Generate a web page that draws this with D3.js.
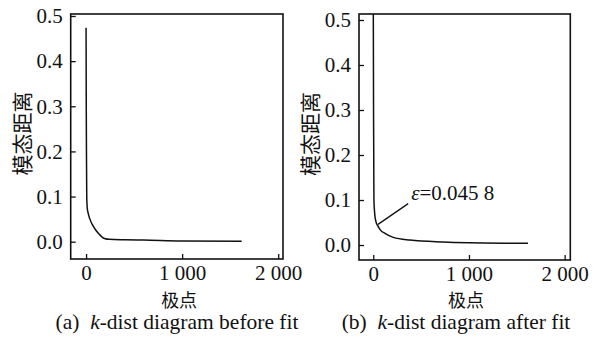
<!DOCTYPE html>
<html>
<head>
<meta charset="utf-8">
<script src="https://cdn.jsdelivr.net/npm/d3@7"></script>
<style>
  body { margin: 0; background: #fff; }
  svg { display: block; }
</style>
</head>
<body>
<div id="chart"></div>
<script>
// k-dist curves: [pole index, modal distance]
const beforeFit = [
  [0, 0.474], [2, 0.3], [4, 0.2], [7, 0.1], [12, 0.075], [20, 0.065],
  [40, 0.05], [70, 0.036], [100, 0.026], [140, 0.016], [170, 0.0098],
  [200, 0.0065], [240, 0.0052], [400, 0.0042], [600, 0.0036],
  [1000, 0.0016], [1620, 0.001]
];
const afterFit = [
  [0, 0.56], [3, 0.3], [5, 0.2], [7, 0.1], [15, 0.07], [28, 0.052],
  [52, 0.041], [80, 0.032], [122, 0.026], [209, 0.017], [383, 0.011],
  [731, 0.0067], [1000, 0.005], [1428, 0.004], [1617, 0.0038]
];
const yTicks = [0.0, 0.1, 0.2, 0.3, 0.4, 0.5];
const xTicks = [0, 1000, 2000];
const xTickLabels = ["0", "1 000", "2 000"];
const yLabel = "模态距离";
const xLabel = "极点";
const epsPoint = [50, 0.0458];
const epsLabelAt = [365, 0.092];
const epsText = "=0.045 8";

const W = 598, H = 338;
const serif = '"Liberation Serif", "Times New Roman", serif';
const cjk = '"Noto Sans CJK SC", "Noto Sans CJK JP", sans-serif';

const svg = d3.select("#chart").append("svg")
  .attr("width", W).attr("height", H);

const panels = [
  { id: "a", data: beforeFit, x0: 70.7, x1: 283, y0: 14, y1: 259,
    xDomain: [-160, 2050], yDomain: [-0.0383, 0.5044],
    yLabelX: 21, captionX: 177, cap: ["(a)  ", "k", "-dist diagram before fit"] },
  { id: "b", data: afterFit, x0: 359, x1: 570.3, y0: 14, y1: 260,
    xDomain: [-149, 2059], yDomain: [-0.0333, 0.5133],
    yLabelX: 309, captionX: 456, cap: ["(b)  ", "k", "-dist diagram after fit"], eps: true }
];

panels.forEach(p => {
  const x = d3.scaleLinear().domain(p.xDomain).range([p.x0, p.x1]);
  const y = d3.scaleLinear().domain(p.yDomain).range([p.y1, p.y0]);
  const g = svg.append("g");

  g.append("clipPath").attr("id", "clip-" + p.id)
    .append("rect")
    .attr("x", p.x0).attr("y", p.y0)
    .attr("width", p.x1 - p.x0).attr("height", p.y1 - p.y0);

  // curve
  const line = d3.line().x(d => x(d[0])).y(d => y(d[1])).curve(d3.curveMonotoneX);
  g.append("path")
    .datum(p.data)
    .attr("clip-path", "url(#clip-" + p.id + ")")
    .attr("fill", "none")
    .attr("stroke", "#111")
    .attr("stroke-width", 1.5)
    .attr("d", line);

  // y axis, inward ticks
  const yAxis = g.append("g")
    .attr("transform", `translate(${p.x0},0)`)
    .call(d3.axisLeft(y).tickValues(yTicks).tickFormat(d3.format(".1f"))
      .tickSizeInner(-5).tickSizeOuter(0).tickPadding(8));
  yAxis.attr("font-family", null).attr("font-size", null);
  yAxis.select(".domain").remove();
  yAxis.selectAll("line").attr("stroke", "#111").attr("stroke-width", 1.3);
  yAxis.selectAll("text")
    .style("font-family", serif).style("font-size", "21px").attr("fill", "#111");

  // x axis, inward ticks
  const xAxis = g.append("g")
    .attr("transform", `translate(0,${p.y1})`)
    .call(d3.axisBottom(x).tickValues(xTicks).tickFormat((d, i) => xTickLabels[i])
      .tickSizeInner(-5).tickSizeOuter(0).tickPadding(6));
  xAxis.attr("font-family", null).attr("font-size", null);
  xAxis.select(".domain").remove();
  xAxis.selectAll("line").attr("stroke", "#111").attr("stroke-width", 1.3);
  xAxis.selectAll("text")
    .style("font-family", serif).style("font-size", "21px").attr("fill", "#111");

  // frame
  g.append("rect")
    .attr("x", p.x0).attr("y", p.y0)
    .attr("width", p.x1 - p.x0).attr("height", p.y1 - p.y0)
    .attr("fill", "none").attr("stroke", "#111").attr("stroke-width", 1.6);

  // axis titles
  g.append("text")
    .attr("transform", `translate(${p.yLabelX},${(p.y0 + p.y1) / 2 - 3}) rotate(-90)`)
    .attr("text-anchor", "middle").attr("dominant-baseline", "central")
    .style("font-family", cjk).style("font-size", "21px").attr("fill", "#111")
    .text(yLabel);
  g.append("text")
    .attr("x", x(1000) - 3).attr("y", 307)
    .attr("text-anchor", "middle")
    .style("font-family", cjk).style("font-size", "18px").attr("fill", "#111")
    .text(xLabel);

  // caption
  const cap = g.append("text")
    .attr("x", p.captionX).attr("y", 329)
    .attr("text-anchor", "middle")
    .style("font-family", serif).style("font-size", "21.5px").attr("fill", "#111")
    .style("white-space", "pre");
  cap.append("tspan").text(p.cap[0]);
  cap.append("tspan").style("font-style", "italic").text(p.cap[1]);
  cap.append("tspan").text(p.cap[2]);

  if (p.eps) {
    g.append("line")
      .attr("x1", x(epsPoint[0])).attr("y1", y(epsPoint[1]))
      .attr("x2", x(epsLabelAt[0])).attr("y2", y(epsLabelAt[1]))
      .attr("stroke", "#111").attr("stroke-width", 1.3);
    const t = g.append("text")
      .attr("x", x(epsLabelAt[0]) + 3).attr("y", y(epsLabelAt[1]) - 4)
      .style("font-family", serif).style("font-size", "21px").attr("fill", "#111");
    t.append("tspan").style("font-style", "italic").text("ε");
    t.append("tspan").text(epsText);
  }
});
</script>
</body>
</html>
